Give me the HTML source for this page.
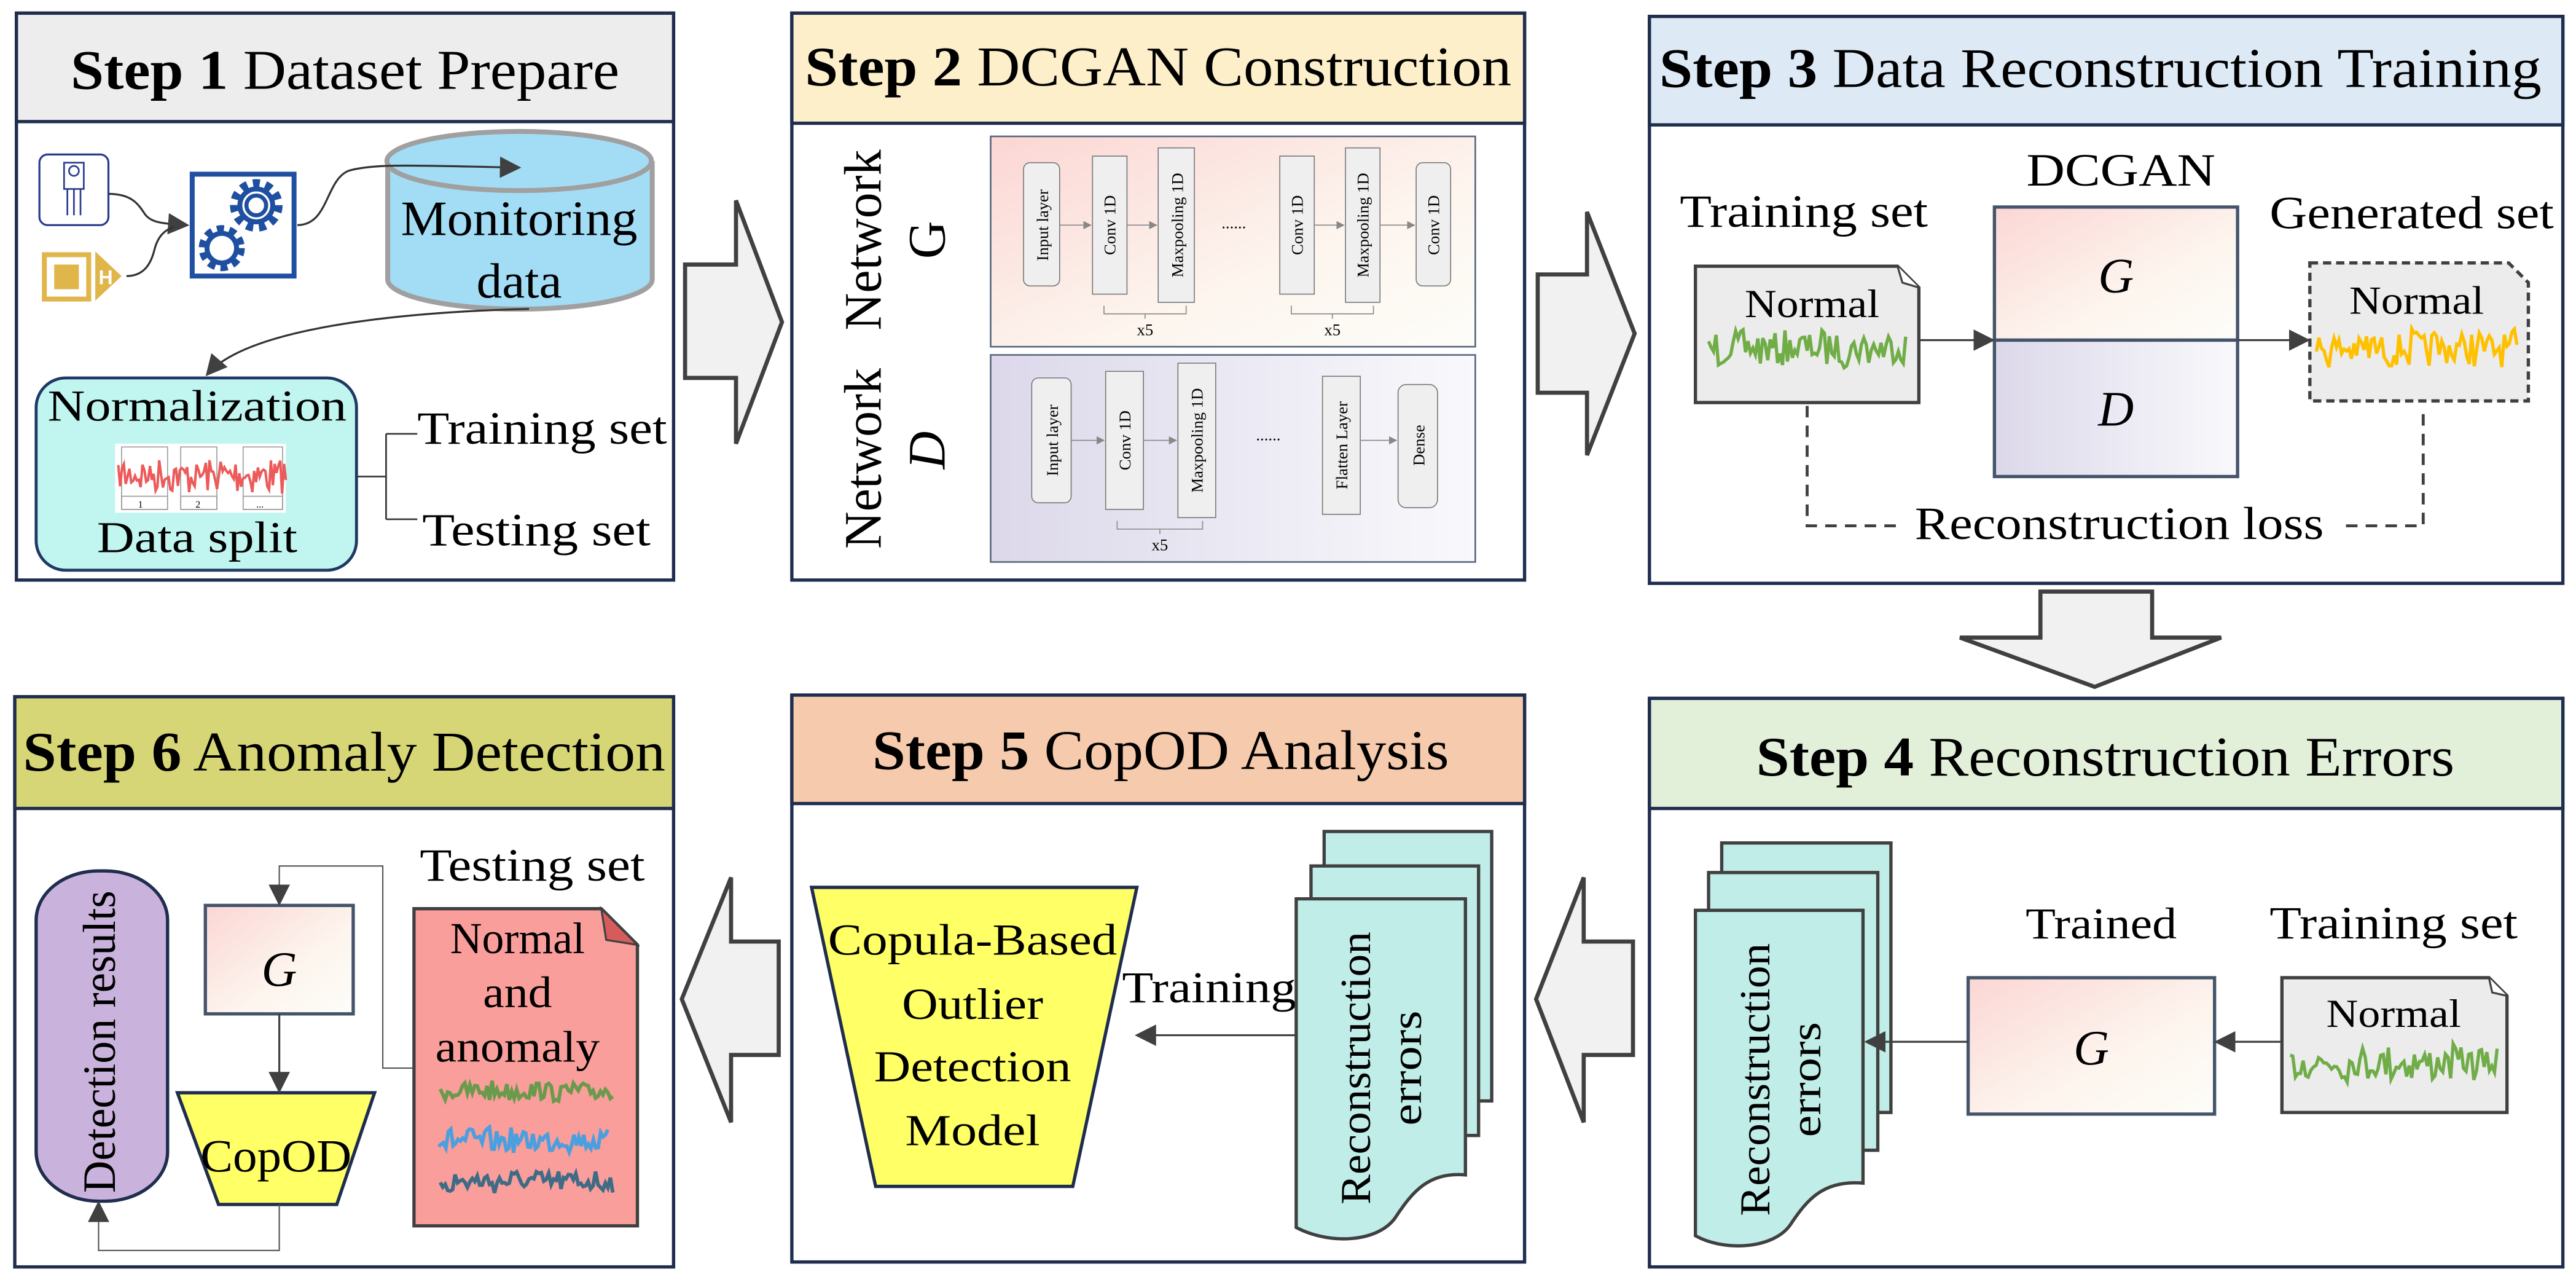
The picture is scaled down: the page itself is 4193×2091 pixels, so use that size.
<!DOCTYPE html>
<html><head><meta charset="utf-8"><style>
html,body{margin:0;padding:0;background:#fff;width:4193px;height:2091px;overflow:hidden}
svg{display:block;font-family:"Liberation Serif","Times New Roman",Times,serif}
svg text{font-family:"Liberation Serif","Times New Roman",Times,serif;fill:#000}
</style></head><body>
<svg id="s" width="4193" height="2091" viewBox="0 0 1568 782" preserveAspectRatio="none" font-family="Liberation Serif, Times New Roman, serif" xmlns="http://www.w3.org/2000/svg">
<defs>
<linearGradient id="gG" x1="0" y1="0" x2="1" y2="1"><stop offset="0" stop-color="#fbd6d4"/><stop offset="0.6" stop-color="#fdf5ee"/><stop offset="1" stop-color="#fdfdf9"/></linearGradient>
<linearGradient id="gD" x1="0" y1="0" x2="1" y2="0"><stop offset="0" stop-color="#dcd8ea"/><stop offset="1" stop-color="#f9f9fc"/></linearGradient>
<marker id="ah" viewBox="0 0 10 10" refX="9" refY="5" markerWidth="13" markerHeight="13" markerUnits="userSpaceOnUse" orient="auto"><path d="M0,0 L10,5 L0,10z" fill="#404040"/></marker>
<marker id="ahs" viewBox="0 0 10 10" refX="9" refY="5" markerWidth="5" markerHeight="5" markerUnits="userSpaceOnUse" orient="auto"><path d="M0,0 L10,5 L0,10z" fill="#888"/></marker>
</defs>

<g stroke="#1f2d4f" stroke-width="2">
<rect x="10" y="8" width="400" height="345" fill="#fff"/><rect x="10" y="8" width="400" height="66" fill="#ededed"/>
<rect x="482" y="8" width="446" height="345" fill="#fff"/><rect x="482" y="8" width="446" height="67" fill="#fcefc9"/>
<rect x="1004" y="10" width="556" height="345" fill="#fff"/><rect x="1004" y="10" width="556" height="66" fill="#dde9f5"/>
<rect x="1004" y="425" width="556" height="346" fill="#fff"/><rect x="1004" y="425" width="556" height="67" fill="#e2efd9"/>
<rect x="482" y="423" width="446" height="345" fill="#fff"/><rect x="482" y="423" width="446" height="66" fill="#f6caac"/>
<rect x="9" y="424" width="401" height="347" fill="#fff"/><rect x="9" y="424" width="401" height="68" fill="#d6d676"/>
</g>
<g font-size="34">
<text x="43" y="54" textLength="334" lengthAdjust="spacingAndGlyphs"><tspan font-weight="bold">Step 1</tspan> Dataset Prepare</text>
<text x="490" y="52" textLength="430" lengthAdjust="spacingAndGlyphs"><tspan font-weight="bold">Step 2</tspan> DCGAN Construction</text>
<text x="1010" y="53" textLength="537" lengthAdjust="spacingAndGlyphs"><tspan font-weight="bold">Step 3</tspan> Data Reconstruction Training</text>
<text x="1069" y="472" textLength="425" lengthAdjust="spacingAndGlyphs"><tspan font-weight="bold">Step 4</tspan> Reconstruction Errors</text>
<text x="531" y="468" textLength="351" lengthAdjust="spacingAndGlyphs"><tspan font-weight="bold">Step 5</tspan> CopOD Analysis</text>
<text x="14" y="469" textLength="391" lengthAdjust="spacingAndGlyphs"><tspan font-weight="bold">Step 6</tspan> Anomaly Detection</text>
</g>

<g fill="#f1f1f1" stroke="#404040" stroke-width="2.5">
<path d="M417,161 H448 V122 L476,196 L448,270 V230 H417 Z"/>
<path d="M936,167 H966 V129 L995,203 L966,277 V239 H936 Z"/>
<path d="M1242,360 H1310 V388 H1352 L1275,418 L1193,388 H1242 Z"/>
<path d="M994,573 H964 V534 L935,608 L964,683 V642 H994 Z"/>
<path d="M474,573 H445 V534 L415,608 L445,683 V642 H474 Z"/>
</g>

<!-- Step 1 -->
<rect x="24" y="94" width="42" height="43" rx="5" fill="#fff" stroke="#2a3a8c" stroke-width="1.2"/>
<g stroke="#2a3a8c" stroke-width="1" fill="#fff">
<rect x="39" y="99" width="12" height="16"/><circle cx="45" cy="104" r="3"/>
<line x1="41" y1="115" x2="41" y2="131"/><line x1="45" y1="115" x2="45" y2="131"/><line x1="49" y1="115" x2="49" y2="131"/></g>
<rect x="27" y="155" width="27" height="27" fill="none" stroke="#e0b54a" stroke-width="3"/>
<rect x="33" y="161" width="15" height="15" fill="#e0b54a"/>
<path d="M58,153 L74,168 L58,183 Z" fill="#e0b54a"/>
<text x="60" y="173" font-size="12" font-weight="bold" style="fill:#fff;font-family:'Liberation Sans',sans-serif">H</text>
<path d="M66,118 C80,118 84,124 88,130 C92,136 100,136 114,137" fill="none" stroke="#333" stroke-width="1.2" marker-end="url(#ah)"/>
<path d="M77,168 C88,168 92,160 94,152 C96,144 100,140 106,138" fill="none" stroke="#333" stroke-width="1.2"/>
<rect x="117" y="106" width="62" height="62" fill="#fff" stroke="#1f4fa0" stroke-width="3"/>
<circle cx="156" cy="125" r="13" fill="#fff" stroke="#1f4fa0" stroke-width="6" stroke-dasharray="4 3.4"/>
<circle cx="156" cy="125" r="10" fill="#fff" stroke="#1f4fa0" stroke-width="3"/>
<circle cx="156" cy="125" r="6" fill="#fff" stroke="#1f4fa0" stroke-width="2.5"/>
<circle cx="135" cy="151" r="11" fill="#fff" stroke="#1f4fa0" stroke-width="6" stroke-dasharray="4 3"/>
<circle cx="135" cy="151" r="9" fill="#fff" stroke="#1f4fa0" stroke-width="3"/>
<path d="M236,98 V170 A80,18 0 0 0 397,170 V98" fill="#a3ddf5" stroke="#a0a0a0" stroke-width="3"/>
<ellipse cx="316" cy="98" rx="80.5" ry="18" fill="#a3ddf5" stroke="#a0a0a0" stroke-width="3"/>
<path d="M181,137 C200,137 198,110 212,104 C228,99 260,101 316,102" fill="none" stroke="#333" stroke-width="1.2" marker-end="url(#ah)"/>
<text x="316" y="143" font-size="30" text-anchor="middle" textLength="144" lengthAdjust="spacingAndGlyphs">Monitoring</text>
<text x="316" y="181" font-size="30" text-anchor="middle" textLength="52" lengthAdjust="spacingAndGlyphs">data</text>
<path d="M322,188 C240,190 150,200 126,228" fill="none" stroke="#333" stroke-width="1.2" marker-end="url(#ah)"/>
<rect x="22" y="230" width="195" height="117" rx="18" fill="#c0f5f0" stroke="#1f3864" stroke-width="1.8"/>
<text x="120" y="256" font-size="27" text-anchor="middle" textLength="182" lengthAdjust="spacingAndGlyphs">Normalization</text>
<rect x="70" y="270" width="104" height="42" fill="#fff"/>
<g fill="none" stroke="#999" stroke-width="0.6"><rect x="74" y="272" width="28" height="38"/><rect x="110" y="272" width="22" height="38"/><rect x="148" y="272" width="24" height="38"/><rect x="74" y="302" width="28" height="8"/><rect x="110" y="302" width="22" height="8"/><rect x="148" y="302" width="24" height="8"/></g>
<polyline id="w0" fill="none" stroke="#ec5a5a" stroke-width="1.5"/>
<text x="84" y="309" font-size="6">1</text><text x="119" y="309" font-size="6">2</text><text x="156" y="309" font-size="6">...</text>
<text x="120" y="336" font-size="27" text-anchor="middle" textLength="122" lengthAdjust="spacingAndGlyphs">Data split</text>
<path d="M217,290 H229 M235,264 V316 M235,264 H254 M235,316 H254 M229,290 H235" fill="none" stroke="#333" stroke-width="1"/>
<text x="254" y="270" font-size="28" textLength="152" lengthAdjust="spacingAndGlyphs">Training set</text>
<text x="257" y="332" font-size="28" textLength="139" lengthAdjust="spacingAndGlyphs">Testing set</text>

<!-- Step 2 -->
<text transform="translate(536,146) rotate(-90)" font-size="32" text-anchor="middle" textLength="110" lengthAdjust="spacingAndGlyphs">Network</text>
<text transform="translate(575,146) rotate(-90)" font-size="32" text-anchor="middle">G</text>
<text transform="translate(536,279) rotate(-90)" font-size="32" text-anchor="middle" textLength="110" lengthAdjust="spacingAndGlyphs">Network</text>
<text transform="translate(575,274) rotate(-90)" font-size="32" font-style="italic" text-anchor="middle">D</text>
<rect x="603" y="83" width="295" height="128" fill="url(#gG)" stroke="#5a6a80" stroke-width="1"/>
<rect x="603" y="216" width="295" height="126" fill="url(#gD)" stroke="#5a6a80" stroke-width="1"/>
<g fill="#efefef" stroke="#777" stroke-width="0.6">
<rect x="623" y="99" width="22" height="75" rx="4"/><rect x="665" y="95" width="21" height="84"/><rect x="705" y="90" width="22" height="94"/>
<rect x="779" y="95" width="21" height="84"/><rect x="819" y="90" width="21" height="94"/><rect x="862" y="99" width="21" height="75" rx="4"/>
<rect x="628" y="230" width="24" height="76" rx="4"/><rect x="673" y="226" width="23" height="84"/><rect x="717" y="221" width="23" height="94"/>
<rect x="805" y="229" width="23" height="84"/><rect x="851" y="234" width="24" height="75" rx="5"/>
</g>
<g stroke="#888" stroke-width="0.6" marker-end="url(#ahs)">
<line x1="645" y1="137" x2="664" y2="137"/><line x1="686" y1="137" x2="704" y2="137"/><line x1="800" y1="137" x2="818" y2="137"/><line x1="840" y1="137" x2="861" y2="137"/>
<line x1="652" y1="268" x2="672" y2="268"/><line x1="696" y1="268" x2="716" y2="268"/><line x1="828" y1="268" x2="850" y2="268"/>
</g>
<g fill="none" stroke="#888" stroke-width="0.6">
<path d="M672,186 V191 H722 V186 M697,191 V194"/><path d="M786,186 V191 H836 V186 M811,191 V194"/><path d="M680,317 V322 H732 V317 M706,322 V325"/>
</g>
<g font-size="10" text-anchor="middle">
<text transform="translate(638,137) rotate(-90)">Input layer</text>
<text transform="translate(679,137) rotate(-90)">Conv 1D</text>
<text transform="translate(720,137) rotate(-90)">Maxpooling 1D</text>
<text transform="translate(793,137) rotate(-90)">Conv 1D</text>
<text transform="translate(833,137) rotate(-90)">Maxpooling 1D</text>
<text transform="translate(876,137) rotate(-90)">Conv 1D</text>
<text transform="translate(644,268) rotate(-90)">Input layer</text>
<text transform="translate(688,268) rotate(-90)">Conv 1D</text>
<text transform="translate(732,268) rotate(-90)">Maxpooling 1D</text>
<text transform="translate(820,271) rotate(-90)">Flatten Layer</text>
<text transform="translate(867,271) rotate(-90)">Dense</text>
<text x="697" y="204">x5</text><text x="811" y="204">x5</text><text x="706" y="335">x5</text>
<text x="751" y="139">......</text><text x="772" y="268">......</text>
</g>

<!-- Step 3 -->
<text x="1098" y="138" font-size="28" text-anchor="middle" textLength="151" lengthAdjust="spacingAndGlyphs">Training set</text>
<text x="1291" y="113" font-size="28" text-anchor="middle" textLength="115" lengthAdjust="spacingAndGlyphs">DCGAN</text>
<text x="1468" y="139" font-size="28" text-anchor="middle" textLength="173" lengthAdjust="spacingAndGlyphs">Generated set</text>
<path d="M1032,162 H1155 L1168,175 V245 H1032 Z" fill="#ececec" stroke="#404040" stroke-width="2"/>
<path d="M1155,162 L1158,172 L1168,175" fill="#fff" stroke="#404040" stroke-width="1.2"/>
<text x="1103" y="193" font-size="24" text-anchor="middle" textLength="82" lengthAdjust="spacingAndGlyphs">Normal</text>
<polyline id="w1" fill="none" stroke="#70ad47" stroke-width="2"/>
<rect x="1214" y="126" width="148" height="81" fill="url(#gG)" stroke="#44546a" stroke-width="2"/>
<rect x="1214" y="207" width="148" height="83" fill="url(#gD)" stroke="#44546a" stroke-width="2"/>
<text x="1288" y="178" font-size="30" font-style="italic" text-anchor="middle">G</text>
<text x="1288" y="259" font-size="30" font-style="italic" text-anchor="middle">D</text>
<line x1="1168" y1="207" x2="1213" y2="207" stroke="#404040" stroke-width="1.2" marker-end="url(#ah)"/>
<line x1="1362" y1="207" x2="1405" y2="207" stroke="#404040" stroke-width="1.2" marker-end="url(#ah)"/>
<path d="M1406,160 H1527 L1539,172 V244 H1406 Z" fill="#ececec" stroke="#404040" stroke-width="2" stroke-dasharray="5 3"/>
<text x="1471" y="191" font-size="24" text-anchor="middle" textLength="82" lengthAdjust="spacingAndGlyphs">Normal</text>
<polyline id="w2" fill="none" stroke="#ffc000" stroke-width="2"/>
<path d="M1100,247 V320 H1156 M1428,320 H1475 V252" fill="none" stroke="#404040" stroke-width="1.8" stroke-dasharray="7 5"/>
<text x="1290" y="328" font-size="28" text-anchor="middle" textLength="249" lengthAdjust="spacingAndGlyphs">Reconstruction loss</text>

<!-- Step 4 -->
<g fill="#c0ede8" stroke="#404040" stroke-width="2">
<rect x="1048" y="513" width="103" height="164"/>
<rect x="1040" y="531" width="103" height="169"/>
<path d="M1032,554 H1134 V720 C1110,718 1100,730 1090,745 C1080,760 1050,762 1032,752 Z"/>
</g>
<text transform="translate(1077,657) rotate(-90)" font-size="26" text-anchor="middle" textLength="166" lengthAdjust="spacingAndGlyphs">Reconstruction</text>
<text transform="translate(1108,657) rotate(-90)" font-size="26" text-anchor="middle" textLength="70" lengthAdjust="spacingAndGlyphs">errors</text>
<text x="1279" y="571" font-size="27" text-anchor="middle" textLength="92" lengthAdjust="spacingAndGlyphs">Trained</text>
<text x="1457" y="571" font-size="28" text-anchor="middle" textLength="151" lengthAdjust="spacingAndGlyphs">Training set</text>
<rect x="1198" y="595" width="150" height="83" fill="url(#gG)" stroke="#44546a" stroke-width="2"/>
<text x="1273" y="648" font-size="30" font-style="italic" text-anchor="middle">G</text>
<path d="M1389,595 H1515 L1526,606 V677 H1389 Z" fill="#ececec" stroke="#404040" stroke-width="2"/>
<path d="M1515,595 L1517,604 L1526,606" fill="#fff" stroke="#404040" stroke-width="1.2"/>
<text x="1457" y="625" font-size="24" text-anchor="middle" textLength="82" lengthAdjust="spacingAndGlyphs">Normal</text>
<polyline id="w3" fill="none" stroke="#70ad47" stroke-width="2"/>
<line x1="1389" y1="634" x2="1349" y2="634" stroke="#404040" stroke-width="1.2" marker-end="url(#ah)"/>
<line x1="1198" y1="634" x2="1136" y2="634" stroke="#404040" stroke-width="1.2" marker-end="url(#ah)"/>

<!-- Step 5 -->
<path d="M494,540 H692 L653,722 H533 Z" fill="#ffff66" stroke="#1f2d4f" stroke-width="2"/>
<g font-size="27" text-anchor="middle">
<text x="592" y="581" textLength="176" lengthAdjust="spacingAndGlyphs">Copula-Based</text>
<text x="592" y="620" textLength="86" lengthAdjust="spacingAndGlyphs">Outlier</text>
<text x="592" y="658" textLength="120" lengthAdjust="spacingAndGlyphs">Detection</text>
<text x="592" y="697" textLength="82" lengthAdjust="spacingAndGlyphs">Model</text>
</g>
<text x="736" y="610" font-size="27" text-anchor="middle" textLength="106" lengthAdjust="spacingAndGlyphs">Training</text>
<line x1="789" y1="630" x2="692" y2="630" stroke="#404040" stroke-width="1.2" marker-end="url(#ah)"/>
<g fill="#c0ede8" stroke="#404040" stroke-width="2">
<rect x="806" y="506" width="102" height="164"/>
<rect x="798" y="527" width="102" height="164"/>
<path d="M789,547 H892 V715 C870,713 860,725 850,740 C840,756 810,758 789,747 Z"/>
</g>
<text transform="translate(834,650) rotate(-90)" font-size="26" text-anchor="middle" textLength="166" lengthAdjust="spacingAndGlyphs">Reconstruction</text>
<text transform="translate(865,650) rotate(-90)" font-size="26" text-anchor="middle" textLength="70" lengthAdjust="spacingAndGlyphs">errors</text>

<!-- Step 6 -->
<rect x="22" y="530" width="80" height="201" rx="38" ry="30" fill="#c9b3dc" stroke="#1f2d4f" stroke-width="2"/>
<text transform="translate(70,634) rotate(-90)" font-size="28" text-anchor="middle" textLength="184" lengthAdjust="spacingAndGlyphs">Detection results</text>
<rect x="125" y="551" width="90" height="66" fill="url(#gG)" stroke="#44546a" stroke-width="2"/>
<text x="170" y="600" font-size="30" font-style="italic" text-anchor="middle">G</text>
<path d="M108,665 H228 L205,733 H133 Z" fill="#ffff66" stroke="#1f2d4f" stroke-width="2"/>
<text x="168" y="713" font-size="28" text-anchor="middle" textLength="92" lengthAdjust="spacingAndGlyphs">CopOD</text>
<path d="M251,650 H233 V527 H170 V550" fill="none" stroke="#555" stroke-width="0.8" marker-end="url(#ah)"/>
<line x1="170" y1="617" x2="170" y2="664" stroke="#404040" stroke-width="1.2" marker-end="url(#ah)"/>
<path d="M170,733 V761 H60 V732" fill="none" stroke="#555" stroke-width="0.8" marker-end="url(#ah)"/>
<path d="M252,553 H366 L388,575 V746 H252 Z" fill="#f99e9a" stroke="#404040" stroke-width="2"/>
<path d="M366,553 L369,572 L388,575 Z" fill="#d65c5c" stroke="#404040" stroke-width="1.2"/>
<text x="324" y="536" font-size="28" text-anchor="middle" textLength="137" lengthAdjust="spacingAndGlyphs">Testing set</text>
<g font-size="27" text-anchor="middle">
<text x="315" y="580" textLength="82" lengthAdjust="spacingAndGlyphs">Normal</text>
<text x="315" y="613" textLength="42" lengthAdjust="spacingAndGlyphs">and</text>
<text x="315" y="646" textLength="100" lengthAdjust="spacingAndGlyphs">anomaly</text>
</g>
<polyline id="w4" fill="none" stroke="#6a9a4c" stroke-width="2.2"/>
<polyline id="w5" fill="none" stroke="#4b9fde" stroke-width="2.2"/>
<polyline id="w6" fill="none" stroke="#3e6b85" stroke-width="2.2"/>
</svg>
<script>
(function(){
var seed=7;function r(){seed=(seed*16807)%2147483647;return seed/2147483647;}
function wave(id,x0,x1,yc,amp,n){var p=[];for(var i=0;i<=n;i++){var x=x0+(x1-x0)*i/n;var y=yc+(r()-0.5)*2*amp*(0.5+0.5*Math.abs(Math.sin(i*0.37)));p.push(x.toFixed(1)+","+y.toFixed(1));}document.getElementById(id).setAttribute("points",p.join(" "));}
wave("w0",72,174,289,12,90);
wave("w1",1040,1160,212,12,80);
wave("w2",1410,1532,212,13,80);
wave("w3",1394,1520,647,12,80);
wave("w4",268,373,664,7,70);
wave("w5",267,370,694,8,70);
wave("w6",268,373,719,8,70);
})();
</script>
</body></html>
